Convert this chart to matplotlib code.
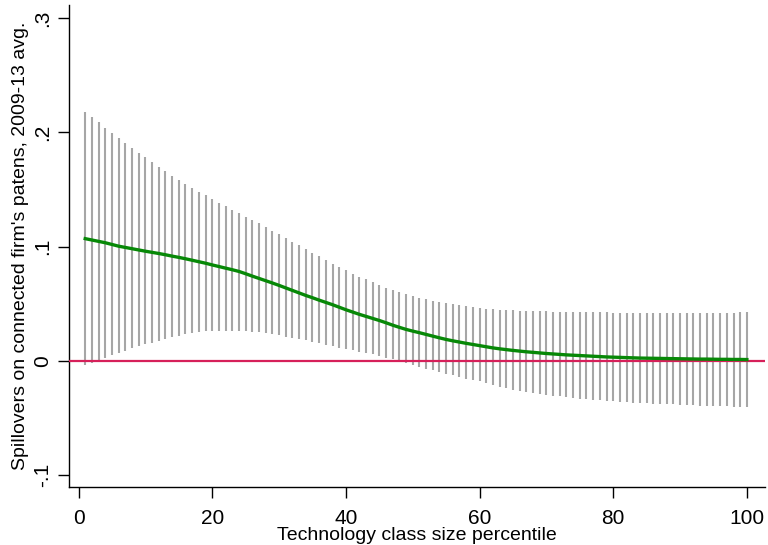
import matplotlib
matplotlib.use("Agg")
import matplotlib.pyplot as plt
import numpy as np

plt.rcParams['font.family'] = ['Liberation Sans', 'DejaVu Sans']

percentile = list(range(1, 101))

estimate = [0.107, 0.1058, 0.1046, 0.1034, 0.1019, 0.1004, 0.0993, 0.0982, 0.0971, 0.0960,
            0.0950, 0.0940, 0.0929, 0.0917, 0.0906, 0.0894, 0.0881, 0.0868, 0.0855, 0.0840,
            0.0826, 0.0812, 0.0798, 0.0783, 0.0763, 0.0742, 0.0722, 0.0702, 0.0682, 0.0661,
            0.0639, 0.0617, 0.0595, 0.0573, 0.0553, 0.0532, 0.0512, 0.0492, 0.0470, 0.0448,
            0.0428, 0.0408, 0.0390, 0.0372, 0.0354, 0.0334, 0.0313, 0.0294, 0.0276, 0.0261,
            0.0247, 0.0232, 0.0217, 0.0202, 0.0188, 0.0176, 0.0165, 0.0154, 0.0144, 0.0134,
            0.0124, 0.0114, 0.0106, 0.0099, 0.0092, 0.0086, 0.0080, 0.0075, 0.0070, 0.0065,
            0.0061, 0.0057, 0.0053, 0.0050, 0.0047, 0.0044, 0.0041, 0.0038, 0.0035, 0.0033,
            0.0031, 0.0029, 0.0027, 0.0025, 0.0024, 0.0023, 0.0022, 0.0021, 0.0020, 0.0019,
            0.0018, 0.0017, 0.0016, 0.0016, 0.0015, 0.0014, 0.0014, 0.0013, 0.0013, 0.0012]

upper = [0.218, 0.2133, 0.2089, 0.204, 0.1996, 0.195, 0.1906, 0.1862, 0.1821, 0.178,
         0.174, 0.170, 0.166, 0.162, 0.158, 0.155, 0.1515, 0.148, 0.145, 0.1415,
         0.138, 0.1354, 0.1323, 0.1296, 0.1261, 0.1235, 0.1203, 0.1168, 0.1139, 0.1107,
         0.1074, 0.1043, 0.1013, 0.0976, 0.0947, 0.0914, 0.0882, 0.085, 0.0821, 0.0795,
         0.0762, 0.0733, 0.0713, 0.0687, 0.0663, 0.064, 0.062, 0.0602, 0.0588, 0.057,
         0.0553, 0.0541, 0.0527, 0.0515, 0.0503, 0.0494, 0.0486, 0.048, 0.0471, 0.0465,
         0.0457, 0.0453, 0.0448, 0.0445, 0.0443, 0.0441, 0.0439, 0.0437, 0.0435, 0.0434,
         0.0432, 0.0431, 0.0430, 0.0429, 0.0428, 0.0427, 0.0426, 0.0425, 0.0424, 0.0423,
         0.0422, 0.0422, 0.0421, 0.0421, 0.0420, 0.0420, 0.0420, 0.0420, 0.0420, 0.0420,
         0.0420, 0.0421, 0.0421, 0.0421, 0.0422, 0.0422, 0.0423, 0.0423, 0.0424, 0.0425]

lower = [-0.0039, -0.0016, 0.0004, 0.0028, 0.0048, 0.0072, 0.0089, 0.0109, 0.0127, 0.0144,
         0.0159, 0.0177, 0.0194, 0.0208, 0.022, 0.0232, 0.0243, 0.0252, 0.0258, 0.0264,
         0.0266, 0.0266, 0.0265, 0.0262, 0.0258, 0.0255, 0.0249, 0.0241, 0.0232, 0.0223,
         0.0212, 0.0203, 0.0191, 0.0179, 0.0168, 0.0153, 0.0142, 0.0127, 0.0115, 0.0103,
         0.0093, 0.008, 0.0072, 0.0057, 0.0042, 0.0028, 0.0013, -0.0004, -0.0022, -0.0039,
         -0.0054, -0.0068, -0.0083, -0.0098, -0.0112, -0.0127, -0.0142, -0.0156, -0.0168, -0.0179,
         -0.0194, -0.0208, -0.0225, -0.0240, -0.0250, -0.0260, -0.0269, -0.0278, -0.0287, -0.0296,
         -0.0304, -0.031, -0.0319, -0.0325, -0.0331, -0.0337, -0.0343, -0.0346, -0.0352, -0.0354,
         -0.0357, -0.036, -0.0364, -0.0367, -0.037, -0.0373, -0.0376, -0.0378, -0.0381, -0.0383,
         -0.0385, -0.0388, -0.039, -0.0392, -0.0394, -0.0396, -0.0398, -0.04, -0.0402, -0.0404]

xticks = [0, 20, 40, 60, 80, 100]
xticklabels = ['0', '20', '40', '60', '80', '100']
yticks = [-0.1, 0, 0.1, 0.2, 0.3]
yticklabels = ['-.1', '0', '.1', '.2', '.3']

fig = plt.figure(figsize=(7.68, 5.45), dpi=100)
ax = fig.add_axes([0.0892, 0.106, 0.9068, 0.8848])

ax.vlines(percentile, lower, upper, colors='#a6a6a6', linewidth=1.5, zorder=2)
ax.axhline(0, color='#d6205a', linewidth=1.6, zorder=3)
ax.plot(percentile, estimate, color='#078807', linewidth=2.4, zorder=4)

ax.set_xlim(-1.5, 102.7)
ax.set_ylim(-0.1105, 0.3114)
ax.set_xticks(xticks)
ax.set_xticklabels(xticklabels)
ax.set_yticks(yticks)
ax.set_yticklabels(yticklabels, rotation=90, va='center')

for s in ['top', 'right']:
    ax.spines[s].set_visible(False)
for s in ['left', 'bottom']:
    ax.spines[s].set_linewidth(1.0)
    ax.spines[s].set_color('#000000')

ax.tick_params(axis='both', direction='out', length=8, width=1.0, labelsize=15, colors='#000000')
ax.tick_params(axis='x', pad=8)
ax.tick_params(axis='y', pad=4)

ax.set_xlabel('Technology class size percentile', fontsize=14, labelpad=-1)
ax.set_ylabel("Spillovers on connected firm's patens, 2009-13 avg.", fontsize=14, labelpad=3)

fig.savefig('out.png', dpi=100)
